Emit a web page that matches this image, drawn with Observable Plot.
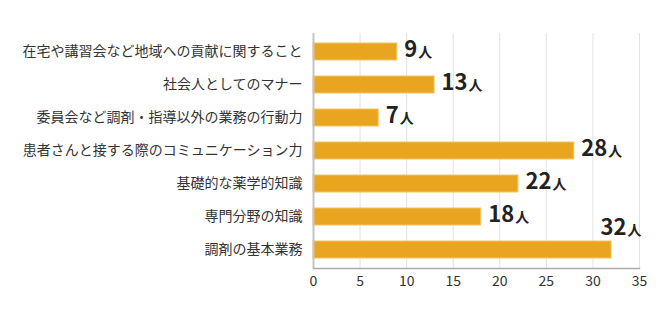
<!DOCTYPE html>
<html>
<head>
<meta charset="utf-8">
<script src="https://cdn.jsdelivr.net/npm/d3@7"></script>
<script src="https://cdn.jsdelivr.net/npm/@observablehq/plot@0.6"></script>
<style>
  html, body { margin: 0; padding: 0; background: #fff; }
</style>
</head>
<body>
<div id="chart"></div>
<script>
const categories = [
  "在宅や講習会など地域への貢献に関すること",
  "社会人としてのマナー",
  "委員会など調剤・指導以外の業務の行動力",
  "患者さんと接する際のコミュニケーション力",
  "基礎的な薬学的知識",
  "専門分野の知識",
  "調剤の基本業務"
];
const values = [9, 13, 7, 28, 22, 18, 32];
const unit = "人";
const xTicks = [0, 5, 10, 15, 20, 25, 30, 35];

const data = categories.map((c, i) => ({cat: c, value: values[i]}));
const inside = data.filter(d => d.value < 30);
const above = data.filter(d => d.value >= 30);

const svg = Plot.plot({
  width: 656,
  height: 311,
  marginLeft: 313,
  marginRight: 17,
  marginTop: 33,
  marginBottom: 43,
  style: {fontFamily: "'Noto Sans CJK JP', 'Noto Sans', sans-serif", color: "#333", background: "#fff"},
  x: {domain: [0, 35], ticks: xTicks},
  y: {domain: categories, paddingInner: 0.48, paddingOuter: 0.24},
  marks: [
    Plot.gridX(xTicks.slice(1), {stroke: "#e2e2e2", strokeOpacity: 1, strokeWidth: 1}),
    Plot.axisX({ticks: xTicks, tickSize: 0, tickPadding: 8, fontSize: 14, label: null, fill: "#333"}),
    Plot.axisY({tickSize: 0, tickPadding: 11, fontSize: 14, label: null, fill: "#333"}),
    Plot.barX(data, {x: "value", y: "cat", fill: "#E9A520", stroke: "#F4C462", strokeWidth: 1}),
    Plot.ruleX([0], {stroke: "#c4c4c4", strokeWidth: 2}),
    Plot.frame({anchor: "bottom", stroke: "#aaa", strokeWidth: 1.5}),
    Plot.text(inside, {x: "value", y: "cat", text: d => d.value + unit, textAnchor: "start", dx: 7, dy: -2, fontSize: 22, fontWeight: "bold", fill: "#222"}),
    Plot.text(above, {x: "value", y: "cat", text: d => d.value + unit, textAnchor: "start", dx: -11, dy: -22, fontSize: 22, fontWeight: "bold", fill: "#222"})
  ]
});

d3.select(svg).selectAll("g[aria-label='text'] text").each(function() {
  const t = this.textContent;
  const num = t.slice(0, -1);
  const u = t.slice(-1);
  const sel = d3.select(this);
  sel.text(null);
  sel.append("tspan").text(num);
  sel.append("tspan").attr("font-size", 14).attr("dx", 1).text(u);
});

document.getElementById("chart").appendChild(svg);
</script>
</body>
</html>
